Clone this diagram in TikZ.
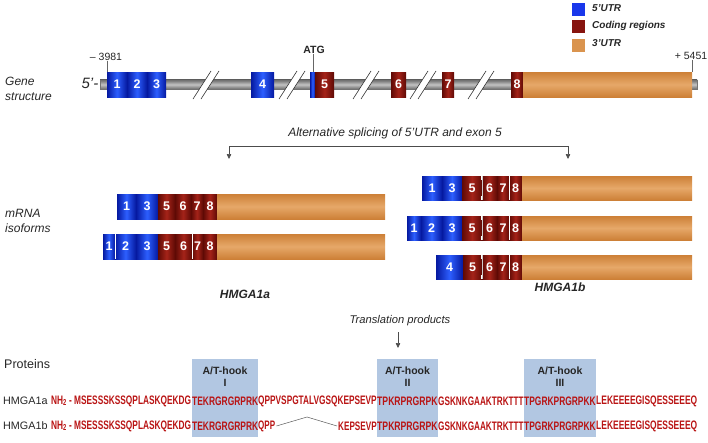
\documentclass[tikz,border=0pt]{standalone}
\usepackage{fontspec}
\setmainfont{Liberation Sans}
\usepackage{graphicx}
\usetikzlibrary{arrows.meta}
\definecolor{bluedark}{RGB}{5,25,160}
\definecolor{bluebright}{RGB}{45,95,255}
\definecolor{reddark}{RGB}{95,10,5}
\definecolor{redbright}{RGB}{165,35,25}
\definecolor{orangeedge}{RGB}{205,128,55}
\definecolor{orangemid}{RGB}{230,168,105}
\definecolor{graydark}{RGB}{105,105,105}
\definecolor{graylight}{RGB}{195,195,195}
\definecolor{seqred}{RGB}{185,20,20}
\definecolor{hookbox}{RGB}{178,199,226}
\definecolor{lgblue}{RGB}{25,55,235}
\definecolor{lgred}{RGB}{135,20,15}
\definecolor{lgorange}{RGB}{218,148,78}
\tikzset{
  exb/.style={rectangle, inner sep=0pt, outer sep=0pt, text=white,
    font=\bfseries\fontsize{12.5}{12.5}\selectfont},
  utrfive/.style={left color=bluedark, right color=bluedark, middle color=bluebright},
  cds/.style={left color=reddark, right color=reddark, middle color=redbright},
  utrthree/.style={top color=orangeedge, bottom color=orangeedge, middle color=orangemid},
  breakline/.style={draw=black!80, line width=0.6pt},
  sepline/.style={draw=white, line width=0.6pt},
  arrowline/.style={draw=black!70, line width=0.6pt},
  tip/.style={-{Triangle[width=4.5pt,length=5pt]}},
  seqtext/.style={inner sep=0pt, anchor=west, text=seqred,
    font=\bfseries\fontsize{12.3}{12.3}\selectfont},
  hook/.style={fill=hookbox, draw=none, rectangle, inner sep=0pt},
  hooklabel/.style={align=center, font=\bfseries\fontsize{10.5}{12}\selectfont, text=black!85},
  lgsq/.style={rectangle, inner sep=0pt, minimum width=13pt, minimum height=13pt},
  lgtext/.style={anchor=west, inner sep=0pt, font=\bfseries\itshape\fontsize{10}{10}\selectfont, text=black!85},
}
\newcommand\exbox[7]{\node[exb,#2,minimum width={(#4-#3)*1pt},minimum height={(#6-#5)*1pt}] (#1) at ({(#3+#4)/2},{(#5+#6)/2}) {#7};}
\newcommand\gbreak[1]{%
  \fill[white] ({#1-13},99) -- ({#1+5},71) -- ({#1+13},71) -- ({#1-5},99) -- cycle;
  \draw[breakline] ({#1-13},99) -- ({#1+5},71);
  \draw[breakline] ({#1-5},99) -- ({#1+13},71);}
\newcommand\sq[2]{\resizebox{#1pt}{\height}{#2}}
\newcommand\notch[3]{%
  \fill[white] ({#1-1.2},#2) rectangle ({#1+1.2},{#2+4});
  \fill[white] ({#1-1.2},{#3-4}) rectangle ({#1+1.2},#3);
  \draw[white!80!black, line width=0.4pt] (#1,#2) -- (#1,#3);}
\begin{document}
\begin{tikzpicture}[x=1pt,y=-1pt]
\useasboundingbox (0,0) rectangle (708,442);

% ---------- legend ----------
\node[lgsq, fill=lgblue] (lg1) at (578.5,9.5) {};
\node[lgsq, fill=lgred] (lg2) at (578.5,26.5) {};
\node[lgsq, fill=lgorange] (lg3) at (578.5,45.5) {};
\node[lgtext] (lt1) at (592,8) {5’UTR};
\node[lgtext] (lt2) at (592,25.5) {Coding regions};
\node[lgtext] (lt3) at (592,43.5) {3’UTR};

% ---------- gene structure ----------
\node[anchor=west, align=left, inner sep=0pt, font=\itshape\fontsize{12}{15}\selectfont, text=black!85] (genelab) at (5,88.5) {Gene\\structure};
\node[anchor=east, inner sep=0pt, font=\itshape\fontsize{15}{15}\selectfont, text=black!85] (five) at (98.5,83.5) {5’-};
\node[rectangle, inner sep=0pt, minimum width=597pt, minimum height=9.5pt, draw=black!55, line width=0.4pt,
  top color=graydark, bottom color=graydark, middle color=graylight] (backbone) at (398.5,84.5) {};
\gbreak{206}\gbreak{292}\gbreak{366}\gbreak{423}\gbreak{481}
\exbox{g1}{utrfive}{107}{127}{72}{97}{1}
\exbox{g2}{utrfive}{127}{147}{72}{97}{2}
\exbox{g3}{utrfive}{147}{166}{72}{97}{3}
\exbox{g4}{utrfive}{251}{274}{72}{97}{4}
\exbox{g5a}{utrfive}{310}{315}{72}{97}{}
\exbox{g5}{cds}{315}{334}{72}{97}{5}
\exbox{g6}{cds}{391}{406}{72}{97}{6}
\exbox{g7}{cds}{442}{454}{72}{97}{7}
\exbox{g8}{cds}{511}{523}{72}{97}{8}
\exbox{g9}{utrthree}{523}{692}{72}{97}{}
\node[inner sep=0pt, font=\fontsize{10.5}{10.5}\selectfont, text=black!85] (startlab) at (106,57) {– 3981};
\node[inner sep=0pt, font=\fontsize{10.5}{10.5}\selectfont, text=black!85] (endlab) at (691,56) {+ 5451};
\node[inner sep=0pt, font=\bfseries\fontsize{10.5}{10.5}\selectfont, text=black!85] (atg) at (314,50) {ATG};
\draw[black!60, line width=0.5pt] (startlab.south -| g1.north west) -- (g1.north west);
\draw[black!60, line width=0.5pt] (endlab.south -| g9.north east) -- (g9.north east);
\draw[black!60, line width=0.5pt] (atg.south -| 313.5,0) -- (313.5,72);

% ---------- splicing arrow ----------
\node[inner sep=0pt, font=\itshape\fontsize{12}{12}\selectfont, text=black!85] (splice) at (395,133) {Alternative splicing of 5’UTR and exon 5};
\coordinate (sl) at (229,146);
\coordinate (sr) at (568,146);
\coordinate (sla) at (229,159);
\coordinate (sra) at (568,159);
\draw[arrowline] (sl) -- (sr);
\draw[arrowline, tip] (sl) -- (sla);
\draw[arrowline, tip] (sr) -- (sra);

% ---------- mRNA isoforms ----------
\node[anchor=west, align=left, inner sep=0pt, font=\itshape\fontsize{12}{15}\selectfont, text=black!85] (mrnalab) at (5,221) {mRNA\\isoforms};
% left row 1
\exbox{a1}{utrfive}{117}{136}{194}{219}{1}
\exbox{a3}{utrfive}{136}{158}{194}{219}{3}
\exbox{a5}{cds}{158}{175}{194}{219}{5}
\exbox{a6}{cds}{175}{191}{194}{219}{6}
\exbox{a7}{cds}{191}{203}{194}{219}{7}
\exbox{a8}{cds}{203}{217}{194}{219}{8}
\exbox{a9}{utrthree}{217}{385}{194}{219}{}
% left row 2
\exbox{b1}{utrfive}{103}{115}{234}{259}{1}
\exbox{b2}{utrfive}{115}{136}{234}{259}{2}
\exbox{b3}{utrfive}{136}{158}{234}{259}{3}
\exbox{b5}{cds}{158}{175}{234}{259}{5}
\exbox{b6}{cds}{175}{192}{234}{259}{6}
\exbox{b7}{cds}{192}{203}{234}{259}{7}
\exbox{b8}{cds}{203}{217}{234}{259}{8}
\exbox{b9}{utrthree}{217}{385}{234}{259}{}
\draw[sepline] (b1.north east) -- (b1.south east);
\draw[sepline] (b6.north east) -- (b6.south east);
% right row 1
\exbox{c1}{utrfive}{422}{442}{176}{200}{1}
\exbox{c3}{utrfive}{442}{462}{176}{200}{3}
\exbox{c5}{cds}{462}{482}{176}{200}{5}
\exbox{c6}{cds}{482}{497}{176}{200}{6}
\exbox{c7}{cds}{497}{509}{176}{200}{7}
\exbox{c8}{cds}{509}{522}{176}{200}{8}
\exbox{c9}{utrthree}{522}{692}{176}{200}{}
\draw[sepline] (c7.north east) -- (c7.south east);
\notch{482}{176}{200}
% right row 2
\exbox{d1}{utrfive}{407}{421}{216}{240}{1}
\exbox{d2}{utrfive}{421}{442}{216}{240}{2}
\exbox{d3}{utrfive}{442}{462}{216}{240}{3}
\exbox{d5}{cds}{462}{482}{216}{240}{5}
\exbox{d6}{cds}{482}{497}{216}{240}{6}
\exbox{d7}{cds}{497}{509}{216}{240}{7}
\exbox{d8}{cds}{509}{522}{216}{240}{8}
\exbox{d9}{utrthree}{522}{692}{216}{240}{}
\draw[sepline] (d7.north east) -- (d7.south east);
\notch{482}{216}{240}
% right row 3
\exbox{e4}{utrfive}{436}{463}{255}{279}{4}
\exbox{e5}{cds}{463}{482}{255}{279}{5}
\exbox{e6}{cds}{482}{497}{255}{279}{6}
\exbox{e7}{cds}{497}{509}{255}{279}{7}
\exbox{e8}{cds}{509}{522}{255}{279}{8}
\exbox{e9}{utrthree}{522}{692}{255}{279}{}
\draw[sepline] (e7.north east) -- (e7.south east);
\notch{482}{255}{279}

\node[inner sep=0pt, font=\bfseries\itshape\fontsize{12}{12}\selectfont, text=black!85] (isoa) at (245,294) {HMGA1a};
\node[inner sep=0pt, font=\bfseries\itshape\fontsize{12}{12}\selectfont, text=black!85] (isob) at (560,287) {HMGA1b};

% ---------- translation ----------
\node[inner sep=0pt, font=\itshape\fontsize{11.2}{11.2}\selectfont, text=black!85] (trans) at (400,321) {Translation products};
\coordinate (ta) at (398,332);
\coordinate (tb) at (398,348);
\draw[arrowline, tip] (ta) -- (tb);

% ---------- proteins ----------
\node[anchor=west, inner sep=0pt, font=\fontsize{12.5}{12.5}\selectfont, text=black!85] (protlab) at (4,364) {Proteins};
\node[hook, minimum width=66pt, minimum height=78pt] (h1) at (225,398) {};
\node[hook, minimum width=61pt, minimum height=78pt] (h2) at (407.5,398) {};
\node[hook, minimum width=72pt, minimum height=78pt] (h3) at (560,398) {};
\node[hooklabel] (hl1) at (225,377) {A/T-hook\\I};
\node[hooklabel] (hl2) at (407.5,377) {A/T-hook\\II};
\node[hooklabel] (hl3) at (560,377) {A/T-hook\\III};

\node[anchor=west, inner sep=0pt, font=\fontsize{10.8}{10.8}\selectfont, text=black!85] (laba) at (3,400.5) {HMGA1a};
\node[anchor=west, inner sep=0pt, font=\fontsize{10.8}{10.8}\selectfont, text=black!85] (labb) at (3,425.5) {HMGA1b};

% HMGA1a sequence
\node[seqtext] (sa1) at (51,401) {\sq{140}{NH\textsubscript{2} - MSESSSKSSQPLASKQEKDG}};
\node[seqtext] (sa2) at (192,401) {\sq{66}{TEKRGRGRPRK}};
\node[seqtext] (sa3) at (258,401) {\sq{118.5}{QPPVSPGTALVGSQKEPSEVP}};
\node[seqtext] (sa4) at (377,401) {\sq{60.5}{TPKRPRGRPK}};
\node[seqtext] (sa5) at (438,401) {\sq{85.5}{GSKNKGAAKTRKTTT}};
\node[seqtext] (sa6) at (524,401) {\sq{71.5}{TPGRKPRGRPKK}};
\node[seqtext] (sa7) at (596,401) {\sq{101}{LEKEEEEGISQESSEEEQ}};
% HMGA1b sequence
\node[seqtext] (sb1) at (51,426) {\sq{140}{NH\textsubscript{2} - MSESSSKSSQPLASKQEKDG}};
\node[seqtext] (sb2) at (192,426) {\sq{66}{TEKRGRGRPRK}};
\node[seqtext] (sb3) at (258,426) {\sq{17}{QPP}};
\node[seqtext] (sb3b) at (338,426) {\sq{38.5}{KEPSEVP}};
\node[seqtext] (sb4) at (377,426) {\sq{60.5}{TPKRPRGRPK}};
\node[seqtext] (sb5) at (438,426) {\sq{85.5}{GSKNKGAAKTRKTTT}};
\node[seqtext] (sb6) at (524,426) {\sq{71.5}{TPGRKPRGRPKK}};
\node[seqtext] (sb7) at (596,426) {\sq{101}{LEKEEEEGISQESSEEEQ}};
\coordinate (gap) at (307,417);
\draw[black!65, line width=0.5pt] ([xshift=1pt]sb3.east) -- (gap) -- ([xshift=-1pt]sb3b.west);
\end{tikzpicture}
\end{document}
